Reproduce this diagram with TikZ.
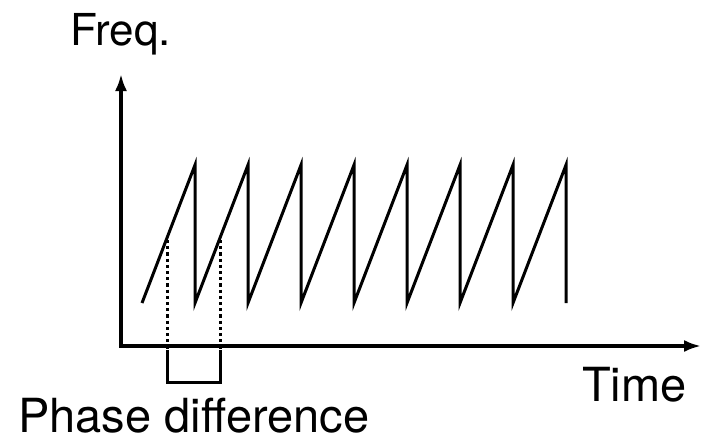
\documentclass[tikz,border=0pt]{standalone}
\usepackage{fontspec}
\setmainfont{TeX Gyre Heros}
\usetikzlibrary{arrows.meta}
\begin{document}
\begin{tikzpicture}[
    x=1pt, y=-1pt,
    axis/.style={-{Latex[length=17pt,width=12pt]}, line width=3.2pt, black},
    wave/.style={line width=3pt, black, line join=miter},
    guide/.style={line width=3pt, black, dash pattern=on 3.2pt off 3pt},
    bracket/.style={line width=3pt, black},
    label/.style={font=\fontsize{47}{50}\selectfont, inner sep=0pt, anchor=base west},
]
\useasboundingbox (0,0) rectangle (701,442);

% Axes
\coordinate (origin) at (121,346);
\coordinate (ytip) at (121,74);
\coordinate (xtip) at (701,346);
\draw[axis] ([xshift=-1.6pt]origin) -- (xtip);
\draw[axis] ([yshift=1.6pt]origin) -- (ytip);

% Labels
\node[label, font=\fontsize{44}{48}\selectfont] (freq) at (70,45) {Freq.};
\node[label] (time) at (582,401) {Time};
\node[label] (phase) at (18,432) {Phase difference};

% Sawtooth
\coordinate (start) at (142,303);
\draw[wave] (start)
    \foreach \i in {1,...,8} { -- ({142+53*\i},165) -- ({142+53*\i},303) };

% Phase difference marks
\coordinate (p1) at (167,240);
\coordinate (p2) at (220,240);
\coordinate (q1) at (167,354);
\coordinate (q2) at (220,354);
\draw[guide] (p1) -- (q1);
\draw[guide] (p2) -- (q2);
\draw[bracket] ([yshift=4pt]q1) -- (167,382) -- (220,382) -- ([yshift=4pt]q2);

\end{tikzpicture}
\end{document}
